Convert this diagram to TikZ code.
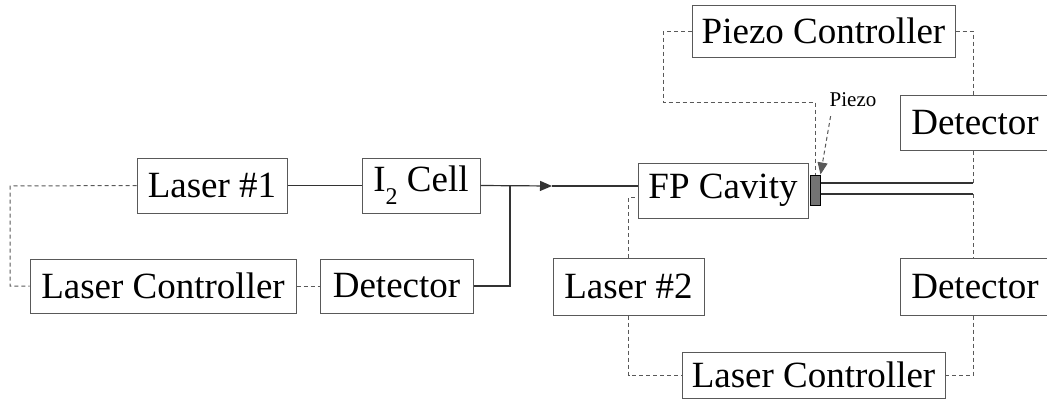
\documentclass[tikz,border=0pt]{standalone}
\usepackage{fontspec}
\setmainfont{Liberation Serif}
\usetikzlibrary{arrows.meta}

\begin{document}
\begin{tikzpicture}[x=0.5pt, y=-0.5pt,
    blockbox/.style={draw=black!65, line width=0.5pt, inner sep=0pt,
        font=\fontsize{18.5}{20}\selectfont},
    beam/.style={draw=black!80, line width=0.6pt},
    signal/.style={draw=black!65, line width=0.5pt, dash pattern=on 2pt off 1.5pt},
    tip/.style={-{Triangle[length=6pt, width=5pt]}}]
    % Fixed Bounding Box
    \useasboundingbox (0,0) rectangle (1047,408);
    \clip (0,0) rectangle (1047,408);

    % Reference arm
    \node[blockbox, minimum width=75pt, minimum height=27.5pt] (laserA) at (212,185.5) {Laser \#1};
    \node[blockbox, minimum width=59pt, minimum height=27.5pt] (cellI) at (421,185.5)
        {I\raisebox{-0.35em}{\fontsize{12}{12}\selectfont 2} Cell};
    \node[blockbox, minimum width=133pt, minimum height=27pt] (ctrlA) at (163,286) {Laser Controller};
    \node[blockbox, minimum width=76.5pt, minimum height=27pt] (detA) at (396.5,286) {Detector};

    % Cavity arm
    \node[blockbox, minimum width=85pt, minimum height=27.5pt] (fp) at (723,190.5) {FP Cavity};
    \node[draw=black, fill=black!55, line width=0.5pt, minimum width=5pt, minimum height=15pt,
        inner sep=0pt] (piezo) at (815,190) {};
    \node[blockbox, minimum width=131.5pt, minimum height=26pt] (pctrl) at (823.5,31) {Piezo Controller};
    \node[blockbox, minimum width=75pt, minimum height=27.5pt] (detB) at (975,122.5) {Detector};
    \node[blockbox, minimum width=75pt, minimum height=28.5pt] (detC) at (975,286.5) {Detector};
    \node[blockbox, minimum width=75.5pt, minimum height=28.5pt] (laserB) at (628.5,286.5) {Laser \#2};
    \node[blockbox, minimum width=131.5pt, minimum height=23pt] (ctrlB) at (813.5,375) {Laser Controller};
    \node[font=\fontsize{10.5}{12}\selectfont] (plabel) at (853,100) {Piezo};

    % Helper points
    \coordinate (split) at (510,186);
    \coordinate (arrowend) at (552,186);
    \coordinate (loopA) at (10,186);
    \coordinate (loopP) at (663,102);
    \coordinate (outB) at (973,183);
    \coordinate (outC) at (973,194);
    \coordinate (inB) at (638,197);

    % Beams
    \draw[beam] (laserA.east) -- (cellI.west);
    \draw[beam, tip] (cellI.east) -- (arrowend);
    \draw[beam] (arrowend) -- (fp.west |- arrowend);
    \draw[beam] (split) |- (detA.east);
    \draw[beam] (piezo.east |- outB) -- (outB);
    \draw[beam] (piezo.east |- outC) -- (outC);
    \draw[signal] (laserB.north) |- (inB);

    % Detector pick-offs
    \draw[signal] (outB) -- (detB.south -| outB);
    \draw[signal] (outC) -- (detC.north -| outC);

    % Control loops
    \draw[signal] (laserA.west) -- (loopA) |- (ctrlA.west);
    \draw[signal] (ctrlA.east) -- (detA.west);
    \draw[signal] (pctrl.west) -| (loopP) -| (piezo.north);
    \draw[signal] (pctrl.east) -| (detB.north -| outB);
    \draw[signal] (laserB.south) |- (ctrlB.west);
    \draw[signal] (detC.south -| outC) |- (ctrlB.east);
    \draw[signal, tip] (plabel.south west) ++(8,2) -- (piezo.north east);
\end{tikzpicture}
\end{document}
